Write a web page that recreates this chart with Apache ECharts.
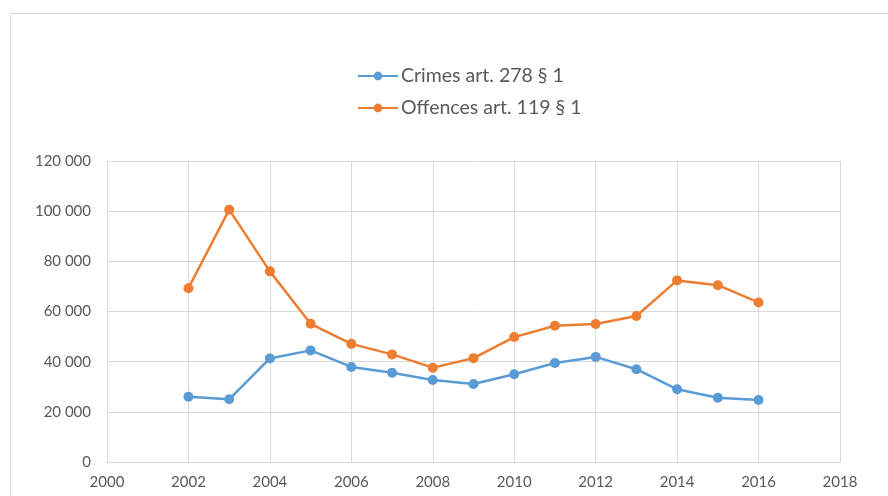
<!DOCTYPE html>
<html>
<head>
<meta charset="utf-8">
<script src="https://cdn.jsdelivr.net/npm/echarts@6/dist/echarts.min.js"></script>
<style>
    html, body { margin: 0; padding: 0; background: #fff; }
    #main { width: 888px; height: 496px; }
</style>
</head>
<body>
<div id="main"></div>
<script>
// 数据
let years = [2002, 2003, 2004, 2005, 2006, 2007, 2008, 2009, 2010, 2011, 2012, 2013, 2014, 2015, 2016];
let crimes = [26000, 25000, 41300, 44500, 37900, 35600, 32700, 31100, 35000, 39500, 41900, 37000, 29000, 25600, 24700];
let offences = [69300, 100600, 76000, 55100, 47100, 42900, 37600, 41400, 49800, 54300, 55000, 58200, 72400, 70500, 63600];
let seriesNames = ['Crimes art. 278 § 1', 'Offences art. 119 § 1'];

function pairs(vals) {
    let out = [];
    for (let i = 0; i < years.length; i++) {
        out.push([years[i], vals[i]]);
    }
    return out;
}

let myChart = echarts.init(document.getElementById('main'));
let gridColor = '#d9d9d9';
let textColor = '#595959';
let option = {
    animation: false,
    textStyle: { fontFamily: 'Lato' },
    graphic: [{
        type: 'rect',
        shape: { x: 10.5, y: 13.5, width: 900, height: 500 },
        style: { fill: 'none', stroke: gridColor, lineWidth: 1 }
    }],
    legend: {
        orient: 'vertical',
        left: 352,
        top: 61,
        itemGap: 12,
        itemWidth: 40,
        itemHeight: 11,
        textStyle: { fontSize: 19.5, color: textColor, fontFamily: 'Lato', padding: [0, 0, 0, -2] },
        data: seriesNames
    },
    grid: { left: 107, right: 48, top: 161, bottom: 34 },
    xAxis: {
        type: 'value',
        min: 2000,
        max: 2018,
        interval: 2,
        axisLine: { show: true, lineStyle: { color: gridColor } },
        axisTick: { show: false },
        axisLabel: { color: textColor, fontSize: 15, margin: 13, formatter: function (v) { return String(v); } },
        splitLine: { show: true, lineStyle: { color: gridColor, width: 1 } }
    },
    yAxis: {
        type: 'value',
        min: 0,
        max: 120000,
        interval: 20000,
        axisLine: { show: false },
        axisTick: { show: false },
        axisLabel: {
            color: textColor,
            fontSize: 15,
            margin: 16,
            formatter: function (v) {
                return String(v).replace(/\B(?=(\d{3})+(?!\d))/g, ' ');
            }
        },
        splitLine: { lineStyle: { color: gridColor, width: 1 } }
    },
    series: [{
        name: seriesNames[0],
        type: 'line',
        data: pairs(crimes),
        symbol: 'circle',
        symbolSize: 10,
        itemStyle: { color: '#5b9bd5' },
        lineStyle: { width: 2.5, color: '#5b9bd5' }
    }, {
        name: seriesNames[1],
        type: 'line',
        data: pairs(offences),
        symbol: 'circle',
        symbolSize: 10,
        itemStyle: { color: '#ed7d31' },
        lineStyle: { width: 2.5, color: '#ed7d31' }
    }]
};
myChart.setOption(option);
</script>
</body>
</html>
